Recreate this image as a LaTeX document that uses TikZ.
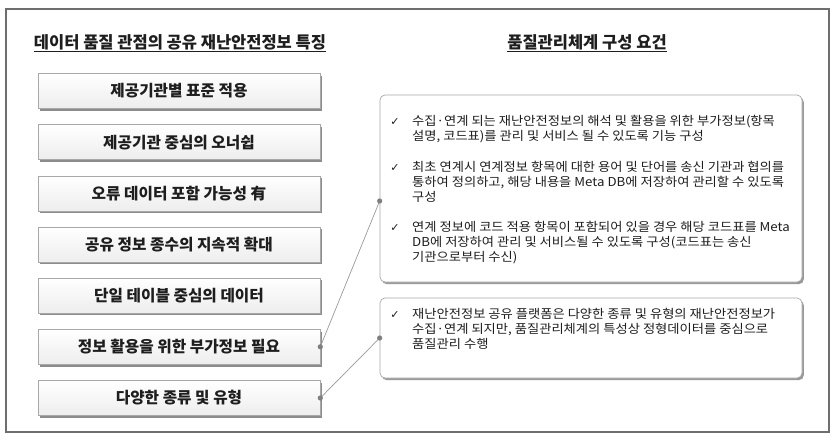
\documentclass[tikz,border=0pt]{standalone}
\usepackage{fontspec}
\setmainfont{Noto Sans CJK KR}
\newfontfamily\bodyf[FakeStretch=1.08]{Noto Sans CJK KR}
\newfontfamily\symf{DejaVu Sans}
\usetikzlibrary{shadows}
\definecolor{framec}{HTML}{6E6E6E}
\definecolor{boxline}{HTML}{A8A8A8}
\definecolor{txt}{HTML}{1E1E1E}
\definecolor{dotc}{HTML}{7F7F7F}
\definecolor{connc}{HTML}{9A9A9A}
\tikzset{
  frame/.style={draw=framec, line width=1.2pt},
  ttl/.style={font=\bfseries\fontsize{16.5}{19}\selectfont, text=txt, inner sep=0pt},
  feat/.style={draw=boxline, line width=0.6pt, top color=white, bottom color=gray!14,
    minimum width=282pt, minimum height=35pt, inner sep=0pt,
    font=\bfseries\fontsize{15.7}{18}\selectfont, text=txt,
    drop shadow={shadow xshift=2.2pt, shadow yshift=-2.2pt, fill=black, opacity=0.45}},
  req/.style={draw=boxline, line width=0.7pt, rounded corners=5pt, fill=white,
    minimum width=422pt, inner sep=0pt,
    drop shadow={shadow xshift=1.8pt, shadow yshift=-2.2pt, fill=black, opacity=0.4}},
  btxt/.style={anchor=north west, align=left, inner sep=0pt, text=txt,
    font=\bodyf\fontsize{12.3}{15}\selectfont},
  chk/.style={inner sep=0pt, text=txt, font=\symf\fontsize{11}{12}\selectfont},
  conn/.style={draw=connc, line width=0.7pt},
  dot/.style={fill=dotc}
}
\begin{document}
\begin{tikzpicture}[x=1pt,y=-1pt]
\useasboundingbox (0,0) rectangle (837,444);
\fill[white] (0,0) rectangle (837,444);
\draw[frame] (6,9) rectangle (829,432);

% titles
\node[ttl] (t1) at (180,42) {데이터 품질 관점의 공유 재난안전정보 특징};
\node[ttl] (t2) at (587,42) {품질관리체계 구성 요건};
\draw[txt, line width=0.8pt] ([yshift=-3.5pt]t1.base west) -- ([yshift=-3.5pt]t1.base east);
\draw[txt, line width=0.8pt] ([yshift=-3.5pt]t2.base west) -- ([yshift=-3.5pt]t2.base east);

% feature boxes
\node[feat] (f1) at (179,91)    {제공기관별 표준 적용};
\node[feat] (f2) at (179,142.2) {제공기관 중심의 오너쉽};
\node[feat] (f3) at (179,193.3) {오류 데이터 포함 가능성 有};
\node[feat] (f4) at (179,244.5) {공유 정보 종수의 지속적 확대};
\node[feat] (f5) at (179,295.6) {단일 테이블 중심의 데이터};
\node[feat] (f6) at (179,346.8) {정보 활용을 위한 부가정보 필요};
\node[feat] (f7) at (179,398)   {다양한 종류 및 유형};

% requirement boxes
\node[req, minimum height=187pt] (r1) at (591,188.5) {};
\node[req, minimum height=80pt]  (r2) at (591,338) {};

% bullets box 1
\node[chk] (c1) at (395,122) {✓};
\node[btxt] (b1) at (412,115.5) {수집·연계 되는 재난안전정보의 해석 및 활용을 위한 부가정보(항목\\설명, 코드표)를 관리 및 서비스 될 수 있도록 기능 구성};
\node[chk] (c2) at (395,168) {✓};
\node[btxt] (b2) at (412,161.5) {최초 연계시 연계정보 항목에 대한 용어 및 단어를 송신 기관과 협의를\\통하여 정의하고, 해당 내용을 Meta DB에 저장하여 관리할 수 있도록\\구성};
\node[chk] (c3) at (395,228) {✓};
\node[btxt] (b3) at (412,221.5) {연계 정보에 코드 적용 항목이 포함되어 있을 경우 해당 코드표를 Meta\\DB에 저장하여 관리 및 서비스될 수 있도록 구성(코드표는 송신\\기관으로부터 수신)};
% bullets box 2
\node[chk] (c4) at (395,315) {✓};
\node[btxt] (b4) at (412,308.5) {재난안전정보 공유 플랫폼은 다양한 종류 및 유형의 재난안전정보가\\수집·연계 되지만, 품질관리체계의 특성상 정형데이터를 중심으로\\품질관리 수행};

% connectors
\coordinate (p1) at ([yshift=-12.5pt]r1.west);
\draw[conn] (f6.east) -- (p1);
\draw[conn] (f7.east) -- (r2.west);
\fill[dot] (f6.east) circle (2.6);
\fill[dot] (f7.east) circle (2.6);
\fill[dot] (p1) circle (2.6);
\fill[dot] (r2.west) circle (2.6);
\end{tikzpicture}
\end{document}
